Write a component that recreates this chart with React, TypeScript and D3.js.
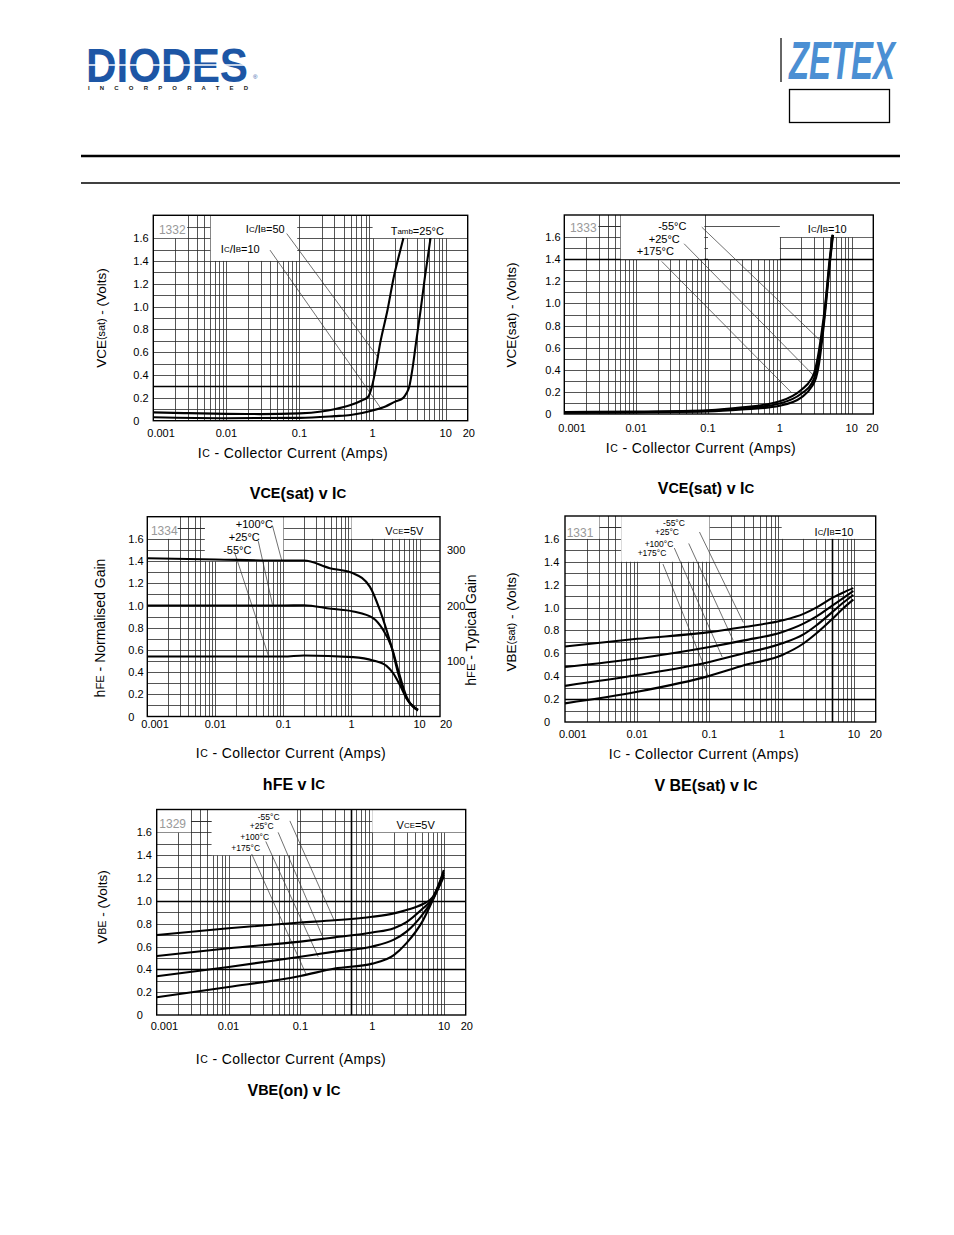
import React from 'react';
import * as d3 from 'd3';

const FONT = "'Liberation Sans', Arial, Helvetica, sans-serif";

// ---------- shared axis data ----------
const xTickValues = [0.001, 0.01, 0.1, 1, 10, 20];
const xTickLabels = ['0.001', '0.01', '0.1', '1', '10', '20'];
const yTickValues = [0, 0.2, 0.4, 0.6, 0.8, 1.0, 1.2, 1.4, 1.6];
const yTickLabels = ['0', '0.2', '0.4', '0.6', '0.8', '1.0', '1.2', '1.4', '1.6'];
const hfeRightTicks = [100, 200, 300];
const hfeRightLabels = ['100', '200', '300'];

// ---------- chart 1: VCE(sat) v IC ----------
const c1Ib50X = [0.001, 0.003, 0.01, 0.03, 0.1, 0.2, 0.3, 0.5, 0.7, 0.87, 0.98, 1.1, 1.27, 1.6, 1.95, 2.3, 2.64];
const c1Ib50Y = [0.073, 0.066, 0.06, 0.058, 0.064, 0.08, 0.1, 0.137, 0.175, 0.21, 0.3, 0.45, 0.68, 0.97, 1.26, 1.45, 1.6];
const c1Ib10X = [0.001, 0.01, 0.1, 0.3, 0.5, 1, 1.5, 2, 2.63, 2.9, 3.18, 3.5, 3.92, 4.54, 5.2, 6.2];
const c1Ib10Y = [0.03, 0.022, 0.025, 0.04, 0.05, 0.09, 0.125, 0.165, 0.2, 0.24, 0.3, 0.45, 0.68, 0.97, 1.26, 1.6];

// ---------- chart 2: VCE(sat) v IC, temperatures ----------
const c2M55X = [0.001, 0.01, 0.1, 0.3, 1, 2, 2.8, 3.2, 3.5, 3.9, 4.4, 5.0, 5.5];
const c2M55Y = [0.012, 0.015, 0.022, 0.04, 0.075, 0.15, 0.25, 0.33, 0.45, 0.68, 1.0, 1.38, 1.62];
const c2P25X = [0.001, 0.01, 0.1, 0.3, 1, 2, 2.8, 3.1, 3.4, 3.85, 4.35, 4.95, 5.45];
const c2P25Y = [0.015, 0.018, 0.028, 0.05, 0.095, 0.185, 0.28, 0.35, 0.47, 0.7, 1.0, 1.38, 1.62];
const c2P175X = [0.001, 0.01, 0.1, 0.3, 1, 2, 2.7, 3.0, 3.3, 3.75, 4.3, 4.9, 5.4];
const c2P175Y = [0.018, 0.022, 0.034, 0.06, 0.115, 0.22, 0.31, 0.37, 0.48, 0.7, 1.0, 1.38, 1.62];

// ---------- chart 3: hFE v IC ----------
const c3P100X = [0.001, 0.01, 0.1, 0.2, 0.48, 1.06, 1.86, 2.61, 3.27, 3.87, 4.85, 6.43, 8.5, 9.5];
const c3P100Y = [1.426, 1.415, 1.405, 1.405, 1.336, 1.29, 1.17, 0.96, 0.78, 0.63, 0.39, 0.165, 0.084, 0.06];
const c3P25X = [0.001, 0.01, 0.1, 0.2, 0.5, 1.06, 2.08, 2.92, 3.87, 4.85, 6.43, 8.5, 9.5];
const c3P25Y = [1.0, 1.0, 1.0, 1.002, 0.97, 0.946, 0.886, 0.78, 0.63, 0.42, 0.18, 0.075, 0.06];
const c3M55X = [0.001, 0.01, 0.1, 0.2, 1.06, 2.08, 3.27, 4.1, 5.13, 6.43, 8.5, 9.5];
const c3M55Y = [0.54, 0.54, 0.54, 0.55, 0.535, 0.505, 0.456, 0.39, 0.285, 0.165, 0.075, 0.054];

// ---------- chart 4: VBE(sat) v IC ----------
const c4X = [0.001, 0.01, 0.1, 0.3, 1, 2, 3, 5, 7, 9.8];
const c4M55Y = [0.66, 0.727, 0.785, 0.83, 0.887, 0.945, 1.0, 1.084, 1.13, 1.17];
const c4P25Y = [0.48, 0.555, 0.655, 0.713, 0.785, 0.86, 0.92, 1.017, 1.08, 1.145];
const c4P100Y = [0.316, 0.41, 0.525, 0.6, 0.685, 0.765, 0.843, 0.96, 1.04, 1.11];
const c4P175Y = [0.163, 0.264, 0.403, 0.496, 0.584, 0.686, 0.773, 0.9, 0.99, 1.07];

// ---------- chart 5: VBE(on) v IC ----------
const c5X = [0.001, 0.01, 0.1, 0.3, 1, 2, 3, 5, 6.9, 8.5, 9.9];
const c5M55Y = [0.70, 0.76, 0.81, 0.83, 0.86, 0.89, 0.92, 0.97, 1.03, 1.15, 1.27];
const c5P25Y = [0.516, 0.584, 0.643, 0.68, 0.723, 0.76, 0.814, 0.93, 1.02, 1.14, 1.25];
const c5P100Y = [0.34, 0.42, 0.51, 0.555, 0.6, 0.66, 0.73, 0.88, 1.01, 1.13, 1.23];
const c5P175Y = [0.156, 0.245, 0.342, 0.407, 0.45, 0.525, 0.63, 0.82, 1.0, 1.12, 1.21];

type Part = [string, number];
type Txt = { dx: number; dy: number; parts: Part[]; size: number; fill?: string; anchor?: string };

function Rich({ x, y, parts, size, fill = '#000', anchor = 'middle', weight = 'normal', rotate = 0, spacing = 0 }: any) {
  return (
    <text
      x={x}
      y={y}
      fontSize={size}
      fontFamily={FONT}
      fill={fill}
      textAnchor={anchor}
      fontWeight={weight}
      dominantBaseline="central"
      letterSpacing={spacing}
      transform={rotate ? `rotate(${rotate} ${x} ${y})` : undefined}
    >
      {parts.map((p: Part, i: number) => (
        <tspan key={i} fontSize={size * p[1]}>
          {p[0]}
        </tspan>
      ))}
    </text>
  );
}

function Chart(p: any) {
  const { left, top, w, h } = p;
  const x = d3.scaleLog().domain([0.001, 20]).range([left, left + w]);
  const y = d3.scaleLinear().domain([0, 1.8]).range([top + h, top]);
  const line = d3
    .line<[number, number]>()
    .x((d) => x(d[0]))
    .y((d) => y(d[1]))
    .curve(d3.curveMonotoneX);
  const snap = (v: number) => Math.round(v) + 0.5;

  const vGrid: number[] = [];
  [0.001, 0.01, 0.1, 1, 10].forEach((dec) => {
    for (let k = 1; k <= 9; k++) {
      const v = dec * k;
      if (v > 0.001 && v < 20) vGrid.push(v);
    }
  });
  const hGrid = d3.range(1, 18).map((i) => i / 10);

  return (
    <g>
      {vGrid.map((v, i) => (
        <line key={'v' + i} x1={snap(x(v))} x2={snap(x(v))} y1={top} y2={top + h} stroke="#2a2a2a" strokeWidth={0.8} />
      ))}
      {hGrid.map((v, i) => (
        <line key={'h' + i} x1={left} x2={left + w} y1={snap(y(v))} y2={snap(y(v))} stroke="#2a2a2a" strokeWidth={0.8} />
      ))}
      {(p.strongH || []).map((v: number, i: number) => (
        <line key={'sh' + i} x1={left} x2={left + w} y1={snap(y(v))} y2={snap(y(v))} stroke="#000" strokeWidth={1.6} />
      ))}
      {(p.strongV || []).map((v: number, i: number) => (
        <line key={'sv' + i} x1={snap(x(v))} x2={snap(x(v))} y1={top} y2={top + h} stroke="#000" strokeWidth={1.6} />
      ))}
      {p.boxes.map((b: number[], i: number) => (
        <rect key={'b' + i} x={x(b[0])} y={y(b[3])} width={x(b[1]) - x(b[0])} height={y(b[2]) - y(b[3])} fill="#fff" />
      ))}
      {(p.innerLines || []).map((l: number[], i: number) => (
        <line key={'il' + i} x1={x(l[0])} x2={x(l[1])} y1={snap(y(l[2]))} y2={snap(y(l[2]))} stroke="#2a2a2a" strokeWidth={0.8} />
      ))}
      <rect x={left} y={top} width={w} height={h} fill="none" stroke="#000" strokeWidth={1.4} />
      {p.leaders.map((l: number[], i: number) => (
        <line key={'l' + i} x1={x(l[0])} y1={y(l[1])} x2={x(l[2])} y2={y(l[3])} stroke="#333" strokeWidth={0.7} />
      ))}
      {p.series.map((s: any, i: number) => (
        <path
          key={'s' + i}
          d={line(s.x.map((xv: number, j: number) => [xv, s.y[j]]) as [number, number][]) || ''}
          fill="none"
          stroke="#000"
          strokeWidth={2.1}
          strokeLinejoin="round"
        />
      ))}
      {p.texts.map((t: Txt, i: number) => (
        <Rich key={'t' + i} x={left + t.dx} y={top + t.dy} parts={t.parts} size={t.size} fill={t.fill} anchor={t.anchor} />
      ))}
      {xTickValues.map((v, i) => {
        let xx = x(v);
        let anchor = 'middle';
        if (i === 0) {
          xx = left - 6;
          anchor = 'start';
        }
        if (v === 20) {
          xx = left + w + p.x20dx;
          anchor = 'start';
        }
        return (
          <text key={'xt' + i} x={xx} y={top + h + p.xLabDy} fontSize={11} fontFamily={FONT} textAnchor={anchor} dominantBaseline="central">
            {xTickLabels[i]}
          </text>
        );
      })}
      {yTickValues.map((v, i) => (
        <text key={'yt' + i} x={left + p.yLabDx} y={y(v)} fontSize={11} fontFamily={FONT} textAnchor="start" dominantBaseline="central">
          {yTickLabels[i]}
        </text>
      ))}
      {p.rightAxis &&
        (() => {
          const y2 = d3.scaleLinear().domain([0, 360]).range([top + h, top]);
          return hfeRightTicks.map((v, i) => (
            <text key={'rt' + i} x={left + w + 7} y={y2(v)} fontSize={11} fontFamily={FONT} textAnchor="start" dominantBaseline="central">
              {hfeRightLabels[i]}
            </text>
          ));
        })()}
    </g>
  );
}

const icTitle: Part[] = [['I', 1], ['C', 0.75], [' - Collector Current (Amps)', 1]];
const sub = 0.72;

export default function App() {
  return (
    <div style={{ position: 'absolute', left: 0, top: 0 }}>
      <svg width={954} height={1235} style={{ display: 'block', background: '#fff' }}>
        {/* header */}
        <g transform="translate(86,82) scale(1,1.16)">
          <text x={0} y={0} fontSize={42} fontWeight={900} fill="#1d56a5" fontFamily={FONT} textLength={162} lengthAdjust="spacingAndGlyphs">
            DIODES
          </text>
        </g>
        <line x1={86} x2={248} y1={65} y2={65} stroke="#fff" strokeWidth={1.6} />
        <text x={253} y={79} fontSize={6} fill="#1d56a5" fontFamily={FONT}>®</text>
        <text x={88} y={90} fontSize={6} fontWeight={700} fill="#222" fontFamily={FONT} textLength={160} lengthAdjust="spacing">
          INCORPORATED
        </text>
        <line x1={781} x2={781} y1={38} y2={82} stroke="#333" strokeWidth={1.5} />
        <g transform="translate(789,79) scale(1,1.65)">
          <text x={0} y={0} fontSize={33} fontWeight={700} fontStyle="italic" fill="#4b8fd3" fontFamily={FONT} textLength={106} lengthAdjust="spacingAndGlyphs">
            ZETEX
          </text>
        </g>
        <rect x={789.5} y={89.5} width={100} height={33} fill="none" stroke="#000" strokeWidth={1.3} />
        <line x1={81} x2={900} y1={156} y2={156} stroke="#000" strokeWidth={2.6} />
        <line x1={81} x2={900} y1={183} y2={183} stroke="#000" strokeWidth={1.6} />

        {/* chart 1 */}
        <Chart
          left={153.3}
          top={215.3}
          w={314.4}
          h={205.4}
          xLabDy={12.5}
          yLabDx={-20}
          x20dx={-5}
          strongH={[0.3]}
          boxes={[
            [0.001, 0.0029, 1.6, 1.8],
            [0.0061, 0.093, 1.4, 1.8],
            [1.0, 20, 1.6, 1.8],
          ]}
          leaders={[
            [0.0668, 1.64, 1.2, 0.55],
            [0.0395, 1.495, 1.26, 0.12],
          ]}
          series={[
            { x: c1Ib50X, y: c1Ib50Y },
            { x: c1Ib10X, y: c1Ib10Y },
          ]}
          texts={[
            { dx: 19, dy: 15, parts: [['1332', 1]], size: 12, fill: '#999' },
            { dx: 112, dy: 14, parts: [['I', 1], ['C', sub], ['/I', 1], ['B', sub], ['=50', 1]], size: 11 },
            { dx: 87, dy: 34, parts: [['I', 1], ['C', sub], ['/I', 1], ['B', sub], ['=10', 1]], size: 11 },
            { dx: 264, dy: 16, parts: [['T', 1], ['amb', sub], ['=25°C', 1]], size: 11 },
          ]}
        />
        <Rich x={101} y={318} parts={[['VCE', 1], ['(sat)', 0.8], [' - (Volts)', 1]]} size={13.5} rotate={-90} />
        <Rich x={293} y={453} parts={icTitle} size={14} spacing={0.4} />
        <Rich x={298} y={493} parts={[['V', 1], ['CE', 0.9], ['(sat) v I', 1], ['C', 0.85]]} size={16} weight={700} />

        {/* chart 2 */}
        <Chart
          left={564.3}
          top={215}
          w={309}
          h={199}
          xLabDy={14}
          yLabDx={-19}
          x20dx={-7}
          strongH={[1.4]}
          boxes={[
            [0.001, 0.003, 1.6, 1.8],
            [0.0061, 0.089, 1.4, 1.8],
            [0.1, 1, 1.4, 1.8],
            [1, 20, 1.6, 1.8],
          ]}
          innerLines={[[0.1, 1, 1.7], [0.003, 0.0061, 1.7]]}
          leaders={[
            [0.082, 1.69, 3.85, 0.65],
            [0.0465, 1.54, 2.94, 0.35],
            [0.0227, 1.38, 1.47, 0.19],
          ]}
          series={[
            { x: c2M55X, y: c2M55Y },
            { x: c2P25X, y: c2P25Y },
            { x: c2P175X, y: c2P175Y },
          ]}
          texts={[
            { dx: 19, dy: 13, parts: [['1333', 1]], size: 12, fill: '#999' },
            { dx: 108, dy: 11, parts: [['-55°C', 1]], size: 11 },
            { dx: 100, dy: 24, parts: [['+25°C', 1]], size: 11 },
            { dx: 91, dy: 36, parts: [['+175°C', 1]], size: 11 },
            { dx: 263, dy: 14, parts: [['I', 1], ['C', sub], ['/I', 1], ['B', sub], ['=10', 1]], size: 11 },
          ]}
        />
        <Rich x={511} y={315} parts={[['VCE(sat) - (Volts)', 1]]} size={13.5} rotate={-90} />
        <Rich x={701} y={448} parts={icTitle} size={14} spacing={0.4} />
        <Rich x={706} y={488} parts={[['V', 1], ['CE', 0.9], ['(sat) v I', 1], ['C', 0.85]]} size={16} weight={700} />

        {/* chart 3 */}
        <Chart
          left={147.3}
          top={516.7}
          w={292.7}
          h={199.8}
          xLabDy={7}
          yLabDx={-19}
          x20dx={0}
          rightAxis
          boxes={[
            [0.001, 0.0028, 1.6, 1.8],
            [0.007, 0.1, 1.4, 1.8],
            [1, 20, 1.6, 1.8],
          ]}
          innerLines={[[0.0028, 0.007, 1.7]]}
          leaders={[
            [0.069, 1.72, 0.094, 1.41],
            [0.0427, 1.58, 0.069, 1.01],
            [0.0194, 1.47, 0.06, 0.55],
          ]}
          series={[
            { x: c3P100X, y: c3P100Y },
            { x: c3P25X, y: c3P25Y },
            { x: c3M55X, y: c3M55Y },
          ]}
          texts={[
            { dx: 17, dy: 14, parts: [['1334', 1]], size: 12, fill: '#999' },
            { dx: 107, dy: 7, parts: [['+100°C', 1]], size: 11 },
            { dx: 97, dy: 20, parts: [['+25°C', 1]], size: 11 },
            { dx: 90, dy: 33, parts: [['-55°C', 1]], size: 11 },
            { dx: 257, dy: 14, parts: [['V', 1], ['CE', sub], ['=5V', 1]], size: 11 },
          ]}
        />
        <Rich x={100} y={628} parts={[['h', 1], ['FE', 0.8], [' - Normalised Gain', 1]]} size={14} rotate={-90} />
        <Rich x={471} y={630} parts={[['h', 1], ['FE', 0.8], [' - Typical Gain', 1]]} size={14} rotate={-90} />
        <Rich x={291} y={753} parts={icTitle} size={14} spacing={0.4} />
        <Rich x={294} y={784} parts={[['hFE v I', 1], ['C', 0.85]]} size={16} weight={700} />

        {/* chart 4 */}
        <Chart
          left={565}
          top={516}
          w={310.7}
          h={206}
          xLabDy={12}
          yLabDx={-21}
          x20dx={-6}
          strongH={[0.2]}
          strongV={[5]}
          boxes={[
            [0.001, 0.003, 1.6, 1.8],
            [0.006, 0.1, 1.4, 1.8],
            [1, 20, 1.6, 1.8],
          ]}
          innerLines={[[0.003, 0.006, 1.7]]}
          leaders={[
            [0.0727, 1.66, 0.294, 0.87],
            [0.0516, 1.56, 0.213, 0.713],
            [0.0326, 1.52, 0.15, 0.568],
            [0.0227, 1.38, 0.0947, 0.409],
          ]}
          series={[
            { x: c4X, y: c4M55Y },
            { x: c4X, y: c4P25Y },
            { x: c4X, y: c4P100Y },
            { x: c4X, y: c4P175Y },
          ]}
          texts={[
            { dx: 15, dy: 17, parts: [['1331', 1]], size: 12, fill: '#999' },
            { dx: 109, dy: 7, parts: [['-55°C', 1]], size: 8.5 },
            { dx: 102, dy: 16, parts: [['+25°C', 1]], size: 8.5 },
            { dx: 94, dy: 28, parts: [['+100°C', 1]], size: 8.5 },
            { dx: 87, dy: 37, parts: [['+175°C', 1]], size: 8.5 },
            { dx: 269, dy: 16, parts: [['I', 1], ['C', sub], ['/I', 1], ['B', sub], ['=10', 1]], size: 11 },
          ]}
        />
        <Rich x={511} y={622} parts={[['VBE', 1], ['(sat)', 0.8], [' - (Volts)', 1]]} size={13.5} rotate={-90} />
        <Rich x={704} y={754} parts={icTitle} size={14} spacing={0.4} />
        <Rich x={706} y={785} parts={[['V BE(sat) v I', 1], ['C', 0.85]]} size={16} weight={700} />

        {/* chart 5 */}
        <Chart
          left={156.7}
          top={809.5}
          w={309}
          h={205.5}
          xLabDy={11}
          yLabDx={-20}
          x20dx={-5}
          strongH={[1.0, 0.4]}
          strongV={[0.5]}
          boxes={[
            [0.001, 0.003, 1.6, 1.8],
            [0.0058, 0.09, 1.4, 1.8],
            [1, 20, 1.6, 1.8],
          ]}
          innerLines={[[0.003, 0.0058, 1.7]]}
          leaders={[
            [0.0714, 1.7, 0.295, 0.83],
            [0.049, 1.6, 0.208, 0.673],
            [0.033, 1.52, 0.177, 0.51],
            [0.021, 1.41, 0.122, 0.348],
          ]}
          series={[
            { x: c5X, y: c5M55Y },
            { x: c5X, y: c5P25Y },
            { x: c5X, y: c5P100Y },
            { x: c5X, y: c5P175Y },
          ]}
          texts={[
            { dx: 16, dy: 14, parts: [['1329', 1]], size: 12, fill: '#999' },
            { dx: 112, dy: 7, parts: [['-55°C', 1]], size: 8.5 },
            { dx: 105, dy: 16, parts: [['+25°C', 1]], size: 8.5 },
            { dx: 98, dy: 27, parts: [['+100°C', 1]], size: 8.5 },
            { dx: 89, dy: 38, parts: [['+175°C', 1]], size: 8.5 },
            { dx: 259, dy: 15, parts: [['V', 1], ['CE', sub], ['=5V', 1]], size: 11 },
          ]}
        />
        <Rich x={102} y={907} parts={[['V', 1], ['BE', 0.8], [' - (Volts)', 1]]} size={13.5} rotate={-90} />
        <Rich x={291} y={1059} parts={icTitle} size={14} spacing={0.4} />
        <Rich x={294} y={1090} parts={[['V', 1], ['BE', 0.9], ['(on) v I', 1], ['C', 0.85]]} size={16} weight={700} />
      </svg>
    </div>
  );
}
